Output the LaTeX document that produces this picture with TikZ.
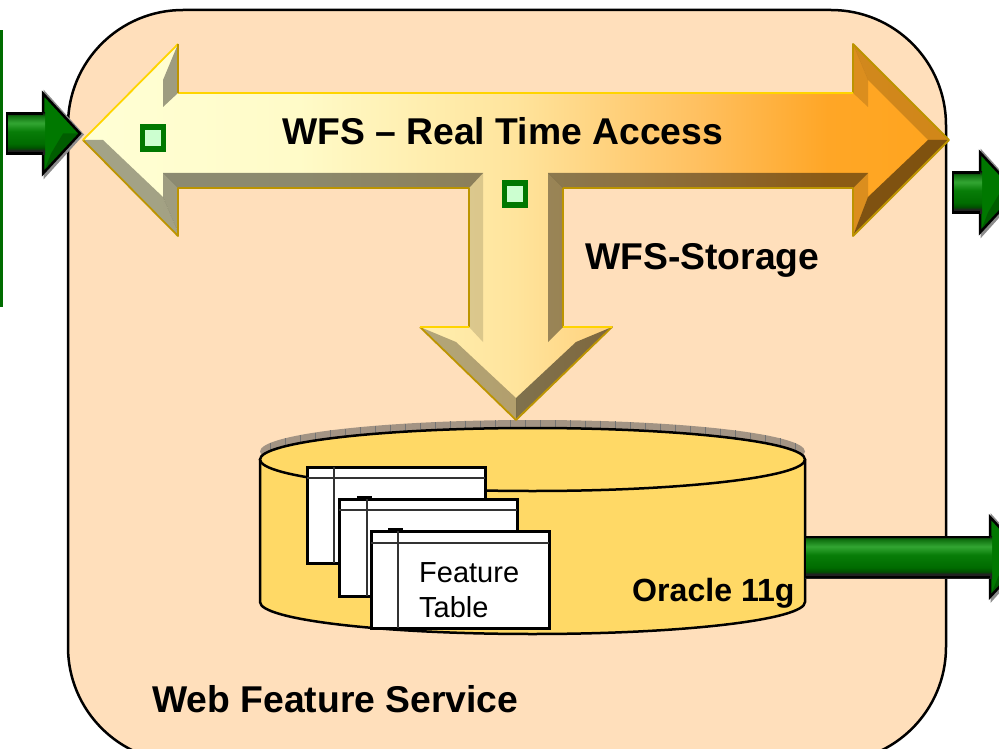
\documentclass[tikz,border=0pt]{standalone}
\usepackage{fontspec}
\setmainfont{Liberation Sans}
\definecolor{servicefill}{HTML}{FFDFBB}
\definecolor{dbfill}{HTML}{FFD966}
\definecolor{dbrim}{HTML}{A39484}
\definecolor{goldlight}{HTML}{FFD400}
\definecolor{golddark}{HTML}{BC9400}
\definecolor{arrowgreen}{HTML}{007800}
\definecolor{markfill}{HTML}{CCFFD0}
\pgfdeclarehorizontalshading{accessshade}{100bp}{rgb(0bp)=(1,1,.835);
  rgb(25bp)=(1,1,.835); rgb(37.5bp)=(1,.984,.784); rgb(50bp)=(1,.894,.612);
  rgb(60.5bp)=(1,.753,.376); rgb(68bp)=(1,.651,.149); rgb(75bp)=(1,.647,.118); rgb(100bp)=(1,.647,.118)}
\pgfdeclareverticalshading{pipeshade}{100bp}{rgb(0bp)=(.13,.13,.13); rgb(30bp)=(.13,.13,.13);
  rgb(32.5bp)=(0,.31,0); rgb(37.5bp)=(0,.42,0); rgb(52.5bp)=(.03,.49,.03);
  rgb(62.5bp)=(.2,.65,.2); rgb(71bp)=(.06,.44,.06); rgb(75bp)=(.06,.06,.06); rgb(100bp)=(.06,.06,.06)}
\tikzset{
  bold label/.style={inner sep=0pt, anchor=base west, font=\fontsize{37.3}{37}\selectfont\bfseries},
  service/.style={draw=black, line width=2.5pt, fill=servicefill, rounded corners=115pt},
  dbody/.style={draw=black, line width=2.5pt, fill=dbfill},
  tablebox/.style={draw=black, line width=3pt, fill=white},
  tableline/.style={draw=black!80, line width=2.5pt},
  bevel/.style={fill=black, fill opacity=#1, draw=none},
  marker/.style={draw=arrowgreen, line width=5.5pt, fill=markfill, minimum width=21pt, minimum height=22pt, inner sep=0pt},
  greenhead/.style={draw=black, line width=2.5pt, fill=arrowgreen, line join=miter},
  greenback/.style={fill=black!45, draw=black!45, line width=3pt}
}
\begin{document}
\begin{tikzpicture}[x=1pt,y=-1pt]
  \clip (0,0) rectangle (999,749);
  \fill[white] (0,0) rectangle (999,749);
  % service box and input bar
  \draw[service] (68,10) rectangle (946,762);
  \fill[arrowgreen!90!black] (0,30) rectangle (3,307);

  % database
  \fill[dbrim] (532.5,451.5) ellipse [x radius=272.5pt, y radius=31.5pt];
  \foreach \x in {270,285,...,795} {
    \pgfmathsetmacro{\ytop}{451.5-31.5*sqrt(1-((\x-532.5)/272.5)^2)}
    \draw[black!55, line width=.7pt] (\x,\ytop) -- ++(0,9);
  }
  \draw[dbody] (260,459.5) -- (260,602) arc [start angle=180, end angle=360, x radius=272.5pt, y radius=32pt] -- (805,459.5);
  \draw[dbody] (532.5,459.5) ellipse [x radius=272.5pt, y radius=31.5pt];

  % feature tables
  \draw[tablebox] (307,467) rectangle (485,563);
  \draw[tableline] (307,478) -- (485,478) (334,467) -- (334,563);
  \draw[tablebox] (339,499) rectangle (517,596);
  \draw[tableline] (339,510) -- (517,510) (367,499) -- (367,596);
  \draw[black, line width=2pt] (357,497) -- (372,497);
  \draw[tablebox] (371,531) rectangle (549,628);
  \draw[tableline] (371,543) -- (549,543) (398,531) -- (398,628);
  \draw[black, line width=2pt] (388,529) -- (403,529);
  \node[inner sep=0pt, anchor=base west, align=left, font=\fontsize{29}{35}\selectfont] (featuretable) at (419,617) {Feature\\Table};
  \node[inner sep=0pt, anchor=base west, font=\fontsize{32.1}{32}\selectfont\bfseries] (oracle) at (632,601) {Oracle 11g};

  % green arrows
  \foreach \xa/\xb/\ym in {7/43/133.5, 953/980/192.5, 805/990/557} {
    \path[greenback] (\xb+2,\ym-40) -- (\xb+39,\ym+1) -- (\xb+2,\ym+42) -- cycle;
    \draw[greenhead] (\xb,\ym-40) -- (\xb+37,\ym) -- (\xb,\ym+40) -- cycle;
    \fill[black, opacity=.22] (\xb+1,\ym+38) -- (\xb+35,\ym) -- (\xb+20,\ym) -- (\xb+8,\ym+20) -- cycle;
    \path[shading=pipeshade] (\xa,\ym-21) rectangle (\xb+2,\ym+21);
    \draw[black, line width=2.5pt] (\xb,\ym-20) -- (\xa,\ym-20) -- (\xa,\ym+20) -- (\xb,\ym+20);
  }

  % access arrow
  \path[shading=accessshade] (83,140) -- (178,44) -- (178,93) -- (853,93) -- (853,44) -- (949,140)
    -- (853,236) -- (853,188) -- (563,188) -- (563,327) -- (612,327) -- (516,420) -- (420,327)
    -- (469,327) -- (469,188) -- (178,188) -- (178,236) -- cycle;
  % left head
  \fill[bevel=.38] (178,44) -- (163,80) -- (163,107) -- (178,93) -- cycle;
  \fill[bevel=.36] (83,140) -- (103,140) -- (163,197) -- (178,232) -- (178,236) -- cycle;
  \fill[bevel=.38] (163,173) -- (178,188) -- (178,232) -- (163,197) -- cycle;
  % shaft
  \fill[bevel=.45] (163,173) -- (483,173) -- (469,188) -- (178,188) -- cycle;
  \fill[bevel=.45] (548,173) -- (868,173) -- (853,188) -- (563,188) -- cycle;
  % stem
  \fill[bevel=.14] (483,173) -- (469,188) -- (469,327) -- (483,342) -- cycle;
  \fill[bevel=.40] (548,173) -- (563,188) -- (563,327) -- (548,342) -- cycle;
  \fill[bevel=.30] (420,327) -- (456,342) -- (516,398) -- (516,419) -- cycle;
  \fill[bevel=.50] (612,327) -- (576,342) -- (516,398) -- (516,419) -- cycle;
  % right head
  \fill[bevel=.18] (853,44) -- (949,140) -- (928,140) -- (868,80) -- cycle;
  \fill[bevel=.14] (853,44) -- (868,80) -- (868,107) -- (853,93) -- cycle;
  \fill[bevel=.14] (868,173) -- (853,188) -- (853,236) -- (868,197) -- cycle;
  \fill[bevel=.50] (928,140) -- (949,140) -- (853,236) -- (868,197) -- cycle;
  % edges
  \draw[golddark, line width=1.8pt, line join=round] (83,140) -- (178,236) -- (178,188) -- (469,188) (563,188) -- (853,188) -- (853,236) -- (949,140) -- (853,44) -- (853,93)
    (469,188) -- (469,327) (563,188) -- (563,327) -- (612,327) -- (516,420) -- (420,327);
  \draw[goldlight, line width=1.8pt, line join=round] (83,140) -- (178,44) (178,93) -- (853,93) (420,327) -- (469,327) (563,327) -- (612,327);
  \draw[golddark, line width=1.8pt] (178,44) -- (178,93);

  \node[marker] (leftmark) at (153,138) {};
  \node[marker] (stemmark) at (515,194) {};

  % labels
  \node[bold label] (access) at (282,145) {WFS – Real Time Access};
  \node[bold label] (storage) at (585,269.5) {WFS-Storage};
  \node[bold label] (wfs) at (152,712) {Web Feature Service};
\end{tikzpicture}
\end{document}
